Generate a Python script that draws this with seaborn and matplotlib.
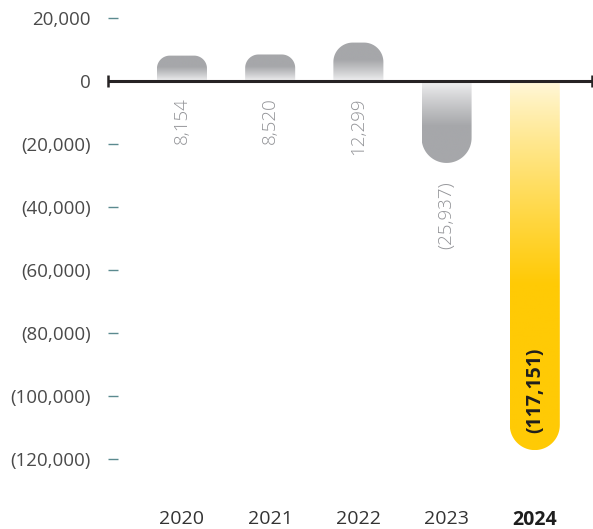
import numpy as np
import matplotlib
matplotlib.use("Agg")
import matplotlib.pyplot as plt
import seaborn as sns
import pandas as pd
from matplotlib.path import Path
from matplotlib.patches import PathPatch
from matplotlib.colors import to_rgb

# Yearly results (negative values shown in parentheses)
years = ["2020", "2021", "2022", "2023", "2024"]
values = [8154, 8520, 12299, -25937, -117151]
highlight_year = "2024"
y_ticks = [20000, 0, -20000, -40000, -60000, -80000, -100000, -120000]


def fmt(v):
    return f"({abs(v):,})" if v < 0 else f"{v:,}"


sns.set_theme(style="white")
plt.rcParams["font.family"] = ["Open Sans", "DejaVu Sans"]

W, H = 593, 529
fig = plt.figure(figsize=(W / 100, H / 100), dpi=100)
ax_l, ax_r, ax_t, ax_b = 107.7, 592.3, 0.0, 500.0
ax = fig.add_axes([ax_l / W, 1 - ax_b / H, (ax_r - ax_l) / W, (ax_b - ax_t) / H])

df = pd.DataFrame({"year": years, "value": values})
sns.barplot(data=df, x="year", y="value", order=years, width=0.567,
            color="#a6a7aa", ax=ax, zorder=2)

xlim = (-0.842, 4.652)
ylim = (-133005, 25826)
ax.set_xlim(*xlim)
ax.set_ylim(*ylim)
ax.set_autoscale_on(False)

# pixels per data unit, used to keep the rounded ends circular
px_x = (ax_r - ax_l) / (xlim[1] - xlim[0])
px_y = (ax_b - ax_t) / (ylim[1] - ylim[0])


def rounded_bar(x0, w, h, r_px):
    rx = r_px / px_x
    ry = r_px / px_y
    s = np.sign(h)
    cy = h - s * ry
    theta = np.linspace(0, np.pi / 2, 24)
    verts = [(x0, 0), (x0, cy)]
    cx = x0 + rx
    for t in theta:
        a = np.pi - t
        verts.append((cx + rx * np.cos(a), cy + s * ry * np.sin(a)))
    cx2 = x0 + w - rx
    for t in theta:
        a = np.pi / 2 - t
        verts.append((cx2 + rx * np.cos(a), cy + s * ry * np.sin(a)))
    verts += [(x0 + w, 0), (x0, 0)]
    codes = [Path.MOVETO] + [Path.LINETO] * (len(verts) - 2) + [Path.CLOSEPOLY]
    return Path(verts, codes)


grey_light, grey_full = to_rgb("#f3f3f4"), to_rgb("#a6a7aa")
gold_light, gold_full = to_rgb("#fff8dc"), to_rgb("#ffca05")

for patch, year, val in zip(ax.patches, years, values):
    patch.set_visible(False)
    x0, w = patch.get_x(), patch.get_width()
    h = val
    h_px = abs(h) * px_y
    r_px = min(w * px_x / 2, 0.5 * h_px)
    path = rounded_bar(x0, w, h, r_px)
    clip = PathPatch(path, transform=ax.transData, facecolor="none", edgecolor="none")

    lo, hi = (gold_light, gold_full) if year == highlight_year else (grey_light, grey_full)
    n = 300
    ys = np.linspace(min(0, h), max(0, h), n)
    t = np.clip(np.abs(ys) / abs(h) / 0.55, 0, 1) ** 0.85
    rgb = np.array(lo)[None, :] * (1 - t[:, None]) + np.array(hi)[None, :] * t[:, None]
    img = np.repeat(rgb[:, None, :], 2, axis=1)
    im = ax.imshow(img, extent=(x0, x0 + w, min(0, h), max(0, h)), origin="lower",
                   aspect="auto", interpolation="bilinear", zorder=2)
    im.set_clip_path(clip)

    # value labels, rotated
    i = years.index(year)
    if year == highlight_year:
        ax.annotate(fmt(val), xy=(i, val), xytext=(0, 12.5), textcoords="offset points",
                    rotation=90, ha="center", va="bottom", fontsize=14,
                    fontweight="bold", color="#1e1e1e", zorder=4)
    elif val >= 0:
        ax.annotate(fmt(val), xy=(i, 0), xytext=(0, -11.5), textcoords="offset points",
                    rotation=90, ha="center", va="top", fontsize=13.5,
                    fontweight="light", color="#929397", zorder=4)
    else:
        ax.annotate(fmt(val), xy=(i, val), xytext=(0, -13.5), textcoords="offset points",
                    rotation=90, ha="center", va="top", fontsize=13.5,
                    fontweight="light", color="#929397", zorder=4)

ax.set_xlim(*xlim)
ax.set_ylim(*ylim)

# zero baseline with end caps
ax.plot(xlim, [0, 0], color="#262324", lw=2.2, solid_capstyle="butt", zorder=3, clip_on=False)
ax.plot(xlim, [0, 0], ls="none", marker="|", ms=9, mew=1.8, color="#262324", zorder=3, clip_on=False)

for s in ax.spines.values():
    s.set_visible(False)

ax.set_yticks(y_ticks, labels=[fmt(v) for v in y_ticks])
ax.tick_params(axis="y", left=True, direction="in", length=7.5, width=1.0,
               color="#5b8a8f", pad=12, labelsize=13.5, labelcolor="#4a4a4a")
ax.tick_params(axis="x", bottom=True, length=0, pad=7.5, labelsize=14, labelcolor="#333333")
ax.set_xlabel("")
ax.set_ylabel("")
for lab in ax.get_xticklabels():
    if lab.get_text() == highlight_year:
        lab.set_fontweight("bold")
        lab.set_color("#1e1e1e")

fig.savefig("out.png", dpi=100)
